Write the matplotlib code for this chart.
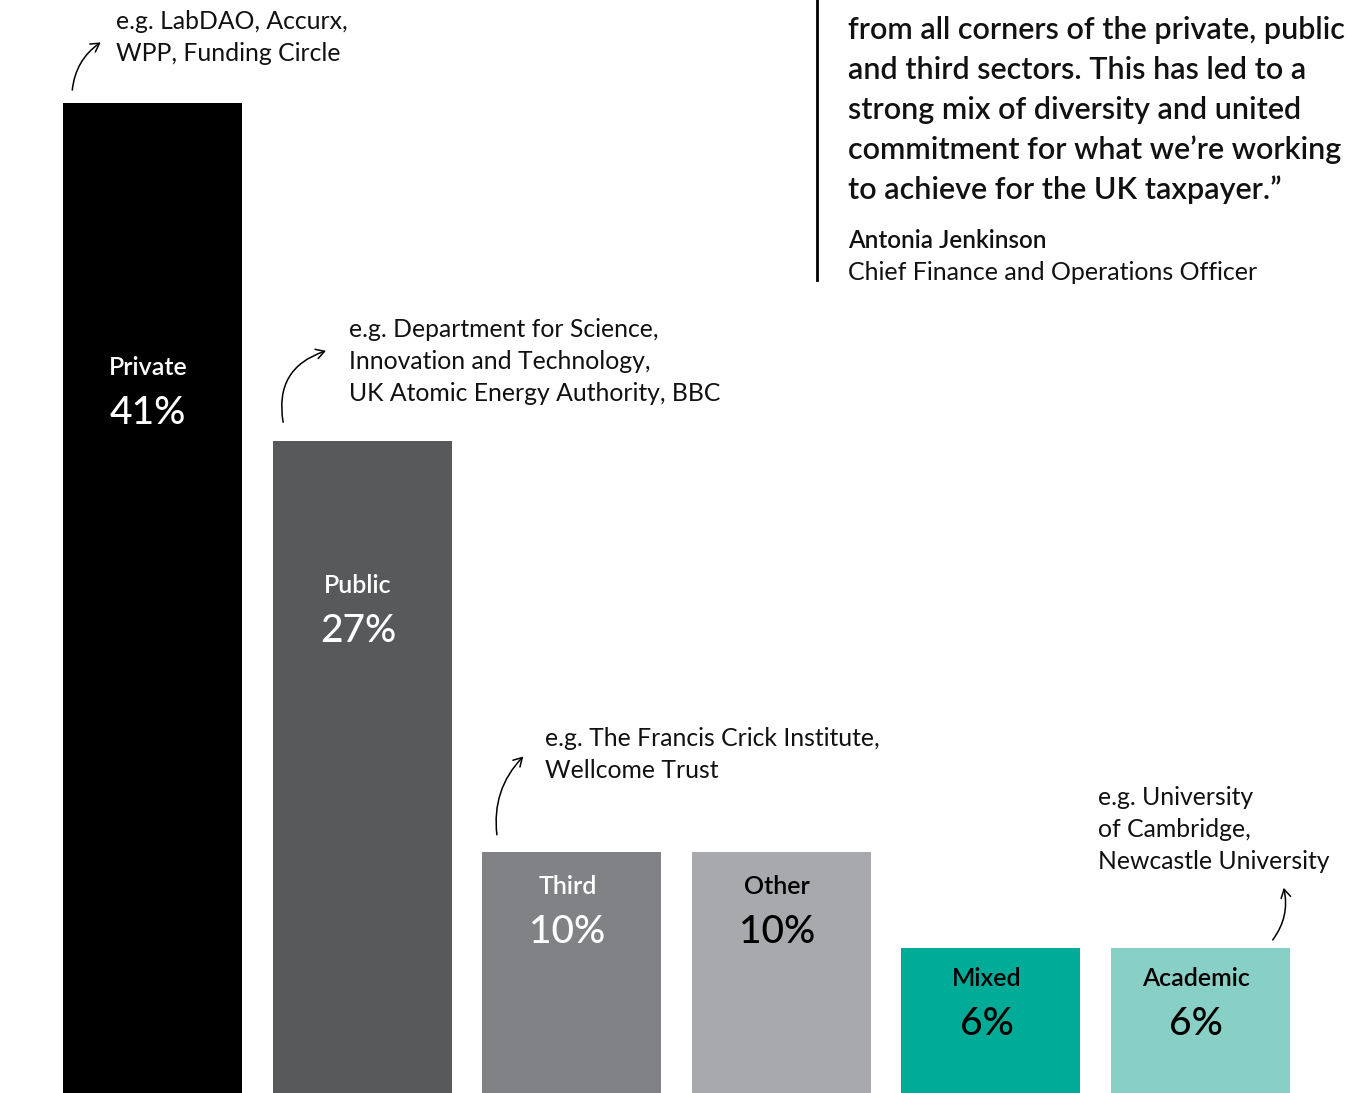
import matplotlib
matplotlib.use("Agg")
import matplotlib.pyplot as plt
from matplotlib.patches import FancyArrowPatch

plt.rcParams['font.family'] = ['Lato', 'DejaVu Sans']

# Share of partners by sector
sectors = ["Private", "Public", "Third", "Other", "Mixed", "Academic"]
shares = [41, 27, 10, 10, 6, 6]
colors = ["#000000", "#58595b", "#808285", "#a7a9ac", "#00ac98", "#88d0c6"]
label_colors = ["white", "white", "white", "black", "black", "black"]

notes = {
    "Private": "e.g. LabDAO, Accurx,\nWPP, Funding Circle",
    "Public": "e.g. Department for Science,\nInnovation and Technology,\nUK Atomic Energy Authority, BBC",
    "Third": "e.g. The Francis Crick Institute,\nWellcome Trust",
    "Academic": "e.g. University\nof Cambridge,\nNewcastle University",
}

quote_lines = [
    "from all corners of the private, public",
    "and third sectors. This has led to a",
    "strong mix of diversity and united",
    "commitment for what we\u2019re working",
    "to achieve for the UK taxpayer.\u201d",
]
quote_name = "Antonia Jenkinson"
quote_role = "Chief Finance and Operations Officer"

W, H = 1350, 1093
fig = plt.figure(figsize=(W / 100, H / 100), dpi=100)
ax = fig.add_axes([0, 0, 1, 1])
ax.set_xlim(-0.7276, 5.713)
ax.set_ylim(0, 45.26)
ax.axis("off")

bar_w = 0.854
xs = list(range(len(sectors)))
bars = ax.bar(xs, shares, width=bar_w, color=colors)

# where the name / value labels sit, in pixels below the bar top
label_drop = [264, 144, 34, 34, 29, 29]


def to_px(x, y):
    return ax.transData.transform((x, y))


def from_px(px, py):
    return ax.transData.inverted().transform((px, py))


fig.canvas.draw()
for i, (name, val) in enumerate(zip(sectors, shares)):
    cx, top = to_px(xs[i], val)
    _, ny = from_px(cx, top - label_drop[i] - 1)
    _, vy = from_px(cx, top - label_drop[i] - 47)
    ax.text(xs[i] - 0.02, ny, name, ha="center", va="center", fontsize=18,
            color=label_colors[i], fontweight="semibold")
    ax.text(xs[i] - 0.02, vy, f"{val}%", ha="center", va="center", fontsize=28,
            color=label_colors[i], fontweight="medium")

# note arrows: tail and head offsets (px) from the bar's top-left corner
arrow_spec = {
    "Private": ((9, 10), (40, 62), -0.25),
    "Public": ((11, 16), (56, 91), -0.45),
    "Third": ((15, 14), (43, 97), -0.25),
    "Academic": ((160, 6), (172, 63), 0.25),
}
# note text anchor: offset (px) of the first line's left/center from the bar's top-left
note_pos = {
    "Private": (53, 81),
    "Public": (76, 111),
    "Third": (63, 113),
    "Academic": (-13, 151),
}

for name, text in notes.items():
    i = sectors.index(name)
    left, top = to_px(xs[i] - bar_w / 2, shares[i])
    (tx, ty), (hx, hy), rad = arrow_spec[name]
    arr = FancyArrowPatch((left + tx, top + ty), (left + hx, top + hy),
                          transform=None, arrowstyle="->,head_length=6,head_width=3.5",
                          connectionstyle=f"arc3,rad={rad}", lw=1.1, color="black",
                          mutation_scale=1)
    fig.add_artist(arr)
    nx, ny = note_pos[name]
    for k, line in enumerate(text.split("\n")):
        fig.text((left + nx) / W, (top + ny - 32 * k) / H, line, ha="left",
                 va="center", fontsize=17.8, color="#111111")

# quote block with rule on the left
fig.add_artist(plt.Line2D([817 / W, 817 / W], [1, (H - 280) / H], color="black", lw=2))
for k, line in enumerate(quote_lines):
    fig.text(848 / W, (H - 30 - 40 * k) / H, line, ha="left", va="center",
             fontsize=22, fontweight="semibold", color="#111111")
fig.text(848 / W, (H - 240) / H, quote_name, ha="left", va="center",
         fontsize=17.5, fontweight="semibold", color="#111111")
fig.text(848 / W, (H - 273) / H, quote_role, ha="left", va="center",
         fontsize=18, color="#111111")

fig.savefig("out.png", dpi=100)
